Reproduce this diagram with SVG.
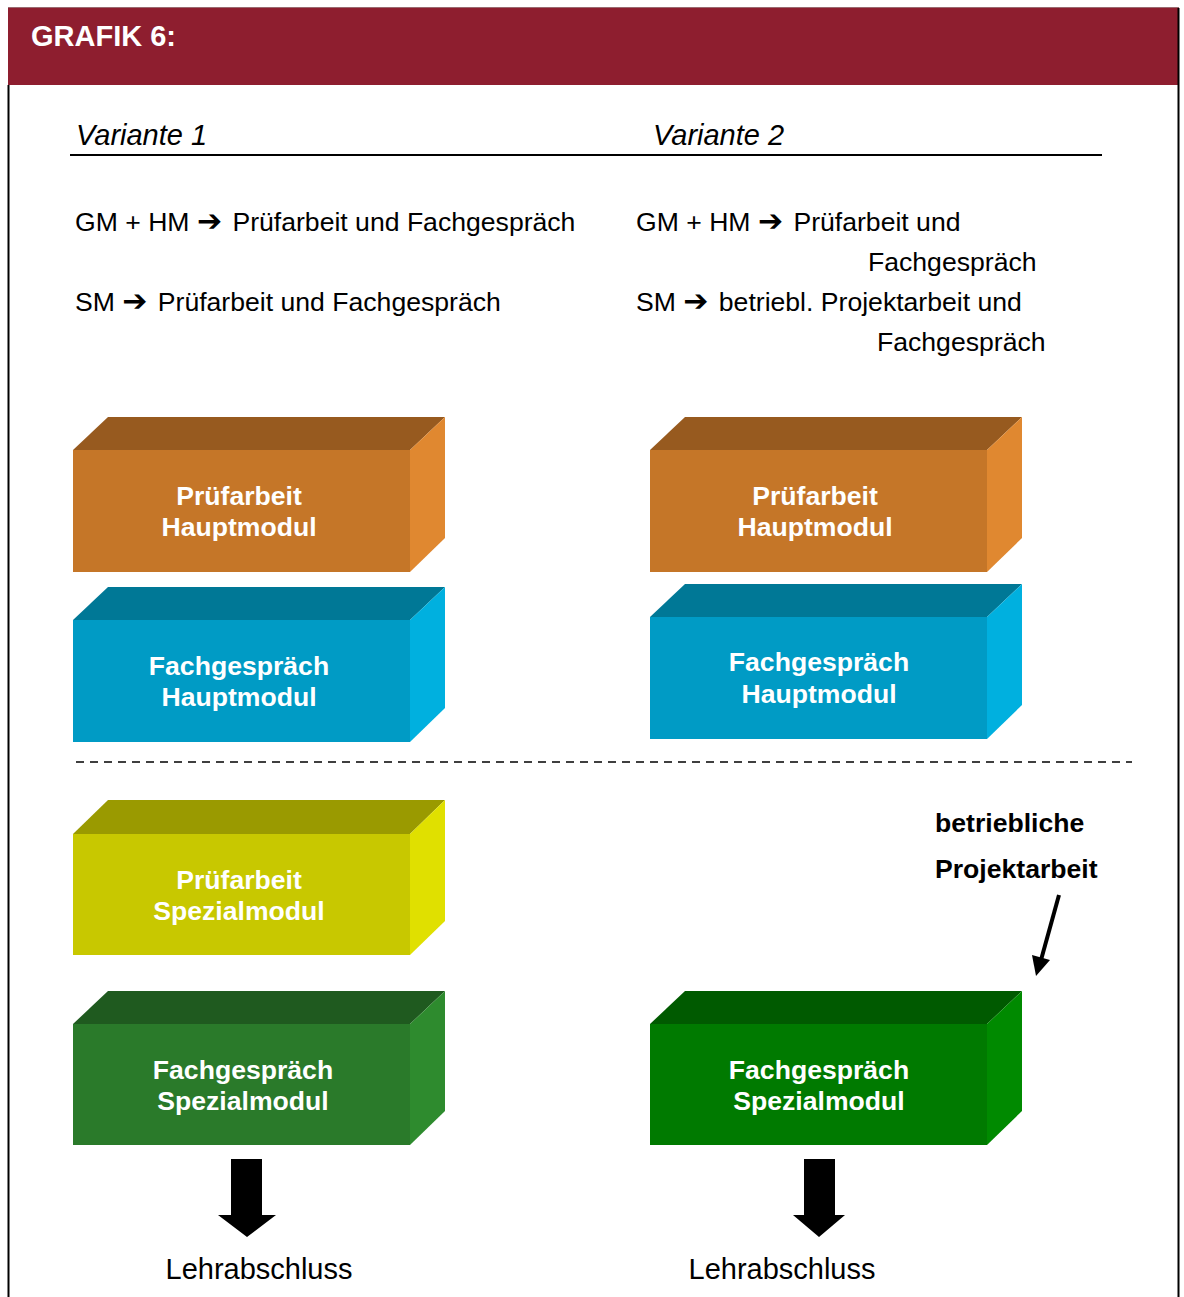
<svg xmlns="http://www.w3.org/2000/svg" width="1184" height="1297" viewBox="0 0 1184 1297">
<style>
.t{font-family:"Liberation Sans",Arial,sans-serif;font-size:26.6px;fill:#000}
.b{font-family:"Liberation Sans",Arial,sans-serif;font-size:26.6px;font-weight:bold;fill:#fff;text-anchor:middle}
.lab{font-family:"Liberation Sans",Arial,sans-serif;font-size:26.6px;font-weight:bold;fill:#000}
.ar{font-family:"DejaVu Sans",sans-serif;font-size:30px;font-weight:bold}
</style>
<rect x="0" y="0" width="1184" height="1297" fill="#fff"/>
<g id="frame">
<rect x="8" y="8" width="1171" height="77" fill="#8E1E2F"/>
<line x1="8" y1="7.5" x2="1179" y2="7.5" stroke="#9a6a70" stroke-width="1"/>
<line x1="8.5" y1="85" x2="8.5" y2="1297" stroke="#000" stroke-width="2"/>
<line x1="1178.5" y1="8" x2="1178.5" y2="1297" stroke="#000" stroke-width="2"/>
<text x="31" y="46" font-family="Liberation Sans,Arial,sans-serif" font-size="29" font-weight="bold" fill="#fff">GRAFIK 6:</text>
</g>
<g id="headings">
<text class="t" x="76" y="145" font-style="italic" style="font-size:29px">Variante 1</text>
<text class="t" x="653" y="145" font-style="italic" style="font-size:29px">Variante 2</text>
<line x1="70" y1="155" x2="1102" y2="155" stroke="#000" stroke-width="2"/>
</g>
<g id="desc">
<text class="t" x="75" y="231">GM + HM <tspan class="ar">➔</tspan><tspan dx="3"> Prüfarbeit und Fachgespräch</tspan></text>
<text class="t" x="75" y="311">SM <tspan class="ar">➔</tspan><tspan dx="3"> Prüfarbeit und Fachgespräch</tspan></text>
<text class="t" x="636" y="231">GM + HM <tspan class="ar">➔</tspan><tspan dx="3"> Prüfarbeit und</tspan></text>
<text class="t" x="868" y="271">Fachgespräch</text>
<text class="t" x="636" y="311">SM <tspan class="ar">➔</tspan><tspan dx="3"> betriebl. Projektarbeit und</tspan></text>
<text class="t" x="877" y="351">Fachgespräch</text>
</g>
<g id="box-l1">
<polygon points="73,450 108,417 445,417 410,450" fill="#975A1F"/>
<polygon points="410,450 445,417 445,538 410,572" fill="#E08830"/>
<rect x="73" y="450" width="337" height="122" fill="#C57628"/>
<text class="b" x="239" y="505">Prüfarbeit</text>
<text class="b" x="239" y="536">Hauptmodul</text>
</g>
<g id="box-l2">
<polygon points="73,620 108,587 445,587 410,620" fill="#007896"/>
<polygon points="410,620 445,587 445,708 410,742" fill="#00B0DF"/>
<rect x="73" y="620" width="337" height="122" fill="#009BC5"/>
<text class="b" x="239" y="675">Fachgespräch</text>
<text class="b" x="239" y="706">Hauptmodul</text>
</g>
<g id="box-l3">
<polygon points="73,834 108,800 445,800 410,834" fill="#9A9A00"/>
<polygon points="410,834 445,800 445,921 410,955" fill="#E0E000"/>
<rect x="73" y="834" width="337" height="121" fill="#C8C800"/>
<text class="b" x="239" y="889">Prüfarbeit</text>
<text class="b" x="239" y="920">Spezialmodul</text>
</g>
<g id="box-l4">
<polygon points="73,1024 108,991 445,991 410,1024" fill="#1F5A1F"/>
<polygon points="410,1024 445,991 445,1111 410,1145" fill="#2E8B2E"/>
<rect x="73" y="1024" width="337" height="121" fill="#2A7A2A"/>
<text class="b" x="243" y="1079">Fachgespräch</text>
<text class="b" x="243" y="1110">Spezialmodul</text>
</g>
<g id="box-r1">
<polygon points="650,450 685,417 1022,417 987,450" fill="#975A1F"/>
<polygon points="987,450 1022,417 1022,538 987,572" fill="#E08830"/>
<rect x="650" y="450" width="337" height="122" fill="#C57628"/>
<text class="b" x="815" y="505">Prüfarbeit</text>
<text class="b" x="815" y="536">Hauptmodul</text>
</g>
<g id="box-r2">
<polygon points="650,617 685,584 1022,584 987,617" fill="#007896"/>
<polygon points="987,617 1022,584 1022,705 987,739" fill="#00B0DF"/>
<rect x="650" y="617" width="337" height="122" fill="#009BC5"/>
<text class="b" x="819" y="671">Fachgespräch</text>
<text class="b" x="819" y="703">Hauptmodul</text>
</g>
<g id="box-r4">
<polygon points="650,1024 685,991 1022,991 987,1024" fill="#005A00"/>
<polygon points="987,1024 1022,991 1022,1111 987,1145" fill="#008A00"/>
<rect x="650" y="1024" width="337" height="121" fill="#007A00"/>
<text class="b" x="819" y="1079">Fachgespräch</text>
<text class="b" x="819" y="1110">Spezialmodul</text>
</g>
<g id="label-projekt">
<text class="lab" x="935" y="832">betriebliche</text>
<text class="lab" x="935" y="878">Projektarbeit</text>
</g>
<g id="connectors">
<line x1="76" y1="762" x2="1132" y2="762" stroke="#000" stroke-width="1.5" stroke-dasharray="8,6"/>
<line x1="1059" y1="895" x2="1041" y2="960" stroke="#000" stroke-width="4"/>
<polygon points="1032,955 1050,960 1036,976" fill="#000"/>
<polygon points="231,1159 262,1159 262,1215 276,1215 247,1237 218,1215 231,1215" fill="#000"/>
<polygon points="804,1159 835,1159 835,1215 845,1215 819,1237 793,1215 804,1215" fill="#000"/>
</g>
<g id="results">
<text class="t" x="259" y="1279" text-anchor="middle" style="font-size:29px">Lehrabschluss</text>
<text class="t" x="782" y="1279" text-anchor="middle" style="font-size:29px">Lehrabschluss</text>
</g>
</svg>
